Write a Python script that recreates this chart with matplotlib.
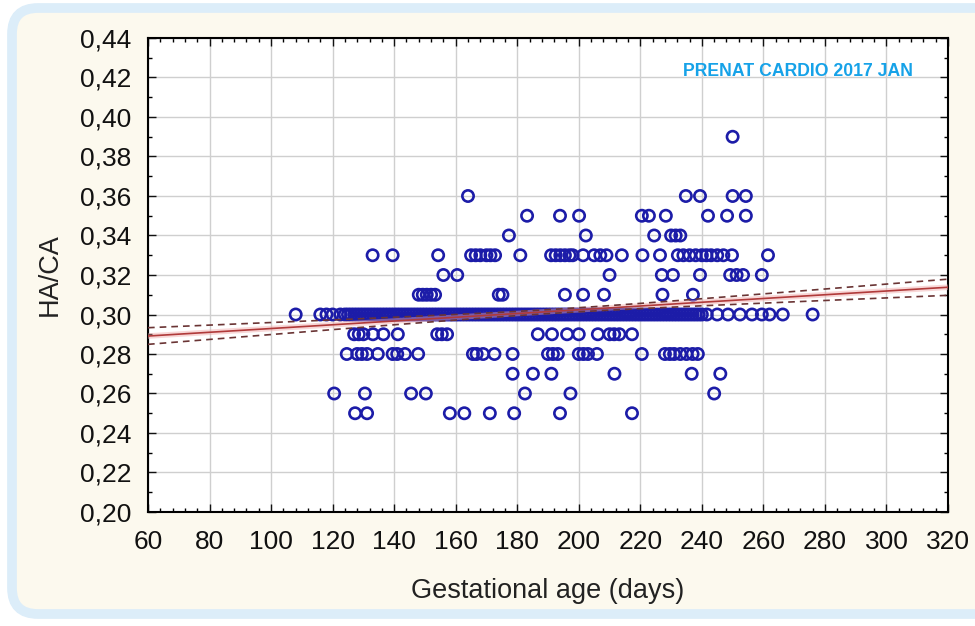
import numpy as np
import matplotlib.pyplot as plt
from matplotlib.patches import FancyBboxPatch
from matplotlib.ticker import MultipleLocator

plt.rcParams['font.family'] = ['Liberation Sans', 'DejaVu Sans']

# HA/CA values, one list of gestational ages (days) per level
row_039 = [250]
row_036 = [164, 234.8, 239.4, 250, 254.3]
row_035 = [183.2, 193.9, 200.1, 220.5, 222.8, 228.3, 242, 248.2, 254.3]
row_034 = [177.3, 202.3, 224.5, 230, 231.5, 233]
row_033 = [133, 139.5, 154.3, 165, 166.5, 168, 170, 171.3, 172.8, 181, 191, 192.5,
           194, 195.5, 197, 198, 201.4, 205, 207, 209, 214, 220.7, 226.4, 232.2,
           234, 236, 238, 240, 241.5, 243, 245, 247, 249.8, 261.5]
row_032 = [156, 160.5, 210, 227, 230.6, 239.4, 249.2, 251.3, 253.4, 259.5]
row_031 = [148, 149.3, 150.6, 152, 153.3, 174, 175.2, 195.5, 201.4, 208.2, 227.2, 237.1]
row_030 = [108, 116, 118, 120, 122.5, 124,
           125, 126, 127, 128, 129, 130, 131, 132, 133, 134, 135, 136, 137, 138,
           139, 140, 141, 142, 143, 144, 145, 146, 147, 148, 149, 150, 151, 152,
           153, 154, 155, 156, 157, 158, 159, 160, 161, 162, 163, 164, 165, 166,
           167, 168, 169, 170, 171, 172, 173, 174, 175, 176, 177, 178, 179, 180,
           181, 182, 183, 184, 185, 186, 187, 188, 189, 190, 191, 192, 193, 194,
           195, 196, 197, 198, 199, 200, 201, 202, 203, 204, 205, 206, 207, 208,
           209, 210, 211, 212, 213, 214, 215, 216, 217, 218, 219, 220, 221, 222,
           223, 224, 225, 226, 227, 228, 229, 230, 231, 232, 233, 234, 235, 236,
           237, 238, 239, 240, 241.6, 245, 248.5, 252.4, 256.3, 259.5, 262,
           266.3, 276]
row_029 = [127, 128.5, 130, 133.1, 136.5, 141.2, 154, 155.5, 157.2, 186.7, 191.3,
           196.2, 200, 206.2, 210, 211.5, 213.2, 217.3]
row_028 = [124.6, 128, 129.5, 131.2, 134.7, 139.5, 141, 143.5, 147.8, 165.6, 166.8,
           168.9, 172.6, 178.5, 190, 191.6, 193.2, 200, 201.5, 203, 205.9, 220.5,
           228, 229.6, 231, 233, 235, 237, 238.7]
row_027 = [178.5, 185.1, 191.1, 211.6, 236.7, 246]
row_026 = [120.5, 130.5, 145.5, 150.3, 182.5, 197.3, 244]
row_025 = [127.3, 131.2, 158.1, 162.8, 171.1, 179, 193.9, 217.3]

rows = {0.39: row_039, 0.36: row_036, 0.35: row_035, 0.34: row_034, 0.33: row_033,
        0.32: row_032, 0.31: row_031, 0.30: row_030, 0.29: row_029, 0.28: row_028,
        0.27: row_027, 0.26: row_026, 0.25: row_025}

ga = np.concatenate([np.array(v, float) for v in rows.values()])
haca = np.concatenate([np.full(len(v), k) for k, v in rows.items()])

# regression line and 95% band
fit_intercept = 0.2891 - 60 * 0.000095
fit_slope = 0.000095
band_center = 192
band_min = 0.0010
band_growth = 3.1e-5

x_ticks = [60, 80, 100, 120, 140, 160, 180, 200, 220, 240, 260, 280, 300, 320]
y_ticks = [0.20, 0.22, 0.24, 0.26, 0.28, 0.30, 0.32, 0.34, 0.36, 0.38, 0.40, 0.42, 0.44]

fig = plt.figure(figsize=(9.75, 6.26), dpi=100)
fig.patch.set_facecolor('white')

# rounded cream panel with light blue border
panel = FancyBboxPatch((12, 12), 1000, 606, boxstyle="round,pad=0,rounding_size=26",
                       transform=None, facecolor='#fcf9ee', edgecolor='#dcedf9',
                       linewidth=7, zorder=-1)
fig.add_artist(panel)

ax = fig.add_axes([148 / 975, 1 - 512 / 626, 800 / 975, 474 / 626])
ax.set_zorder(1)
ax.set_facecolor('white')

ax.scatter(ga, haca, s=66, facecolors='none', edgecolors='#1c1ca8',
           linewidths=1.9, zorder=3)

xl = np.linspace(60, 320, 200)
yl = fit_intercept + fit_slope * xl
half = np.sqrt(band_min ** 2 + (band_growth * (xl - band_center)) ** 2)
ax.plot(xl, yl, color='#f0a8a8', lw=4, alpha=0.45, zorder=4)
ax.plot(xl, yl, color='#b03a3a', lw=1.2, zorder=5)
ax.plot(xl, yl + half, color='#6a3434', lw=1.2, dashes=(4, 3), zorder=5)
ax.plot(xl, yl - half, color='#6a3434', lw=1.2, dashes=(4, 3), zorder=5)

ax.set_xlim(60, 320)
ax.set_ylim(0.20, 0.44)
ax.set_xticks(x_ticks)
ax.set_yticks(y_ticks)
ax.set_yticklabels([f"{v:.2f}".replace('.', ',') for v in y_ticks])
ax.xaxis.set_minor_locator(MultipleLocator(4))
ax.yaxis.set_minor_locator(MultipleLocator(0.01))
ax.tick_params(which='both', direction='in', top=True, right=True, width=1)
ax.tick_params(which='major', length=6, labelsize=19, colors='#111111')
ax.tick_params(axis='x', which='major', pad=13)
ax.tick_params(axis='y', which='major', pad=12)
ax.tick_params(which='minor', length=3)
ax.grid(True, color='#cfcfcf', lw=1, zorder=0)
ax.set_axisbelow(True)
for s in ax.spines.values():
    s.set_linewidth(1.5)
    s.set_color('black')

ax.set_xlabel("Gestational age (days)", fontsize=19.5, color='#222222', labelpad=17)
ax.set_ylabel("HA/CA", fontsize=19.5, color='#222222', labelpad=12)

fig.text(683 / 975, 1 - 72 / 626, "PRENAT CARDIO 2017 JAN", color='#16a2e8',
         fontsize=12.7, fontweight='bold', va='center', ha='left', zorder=5)

fig.savefig("out.png", dpi=100)
